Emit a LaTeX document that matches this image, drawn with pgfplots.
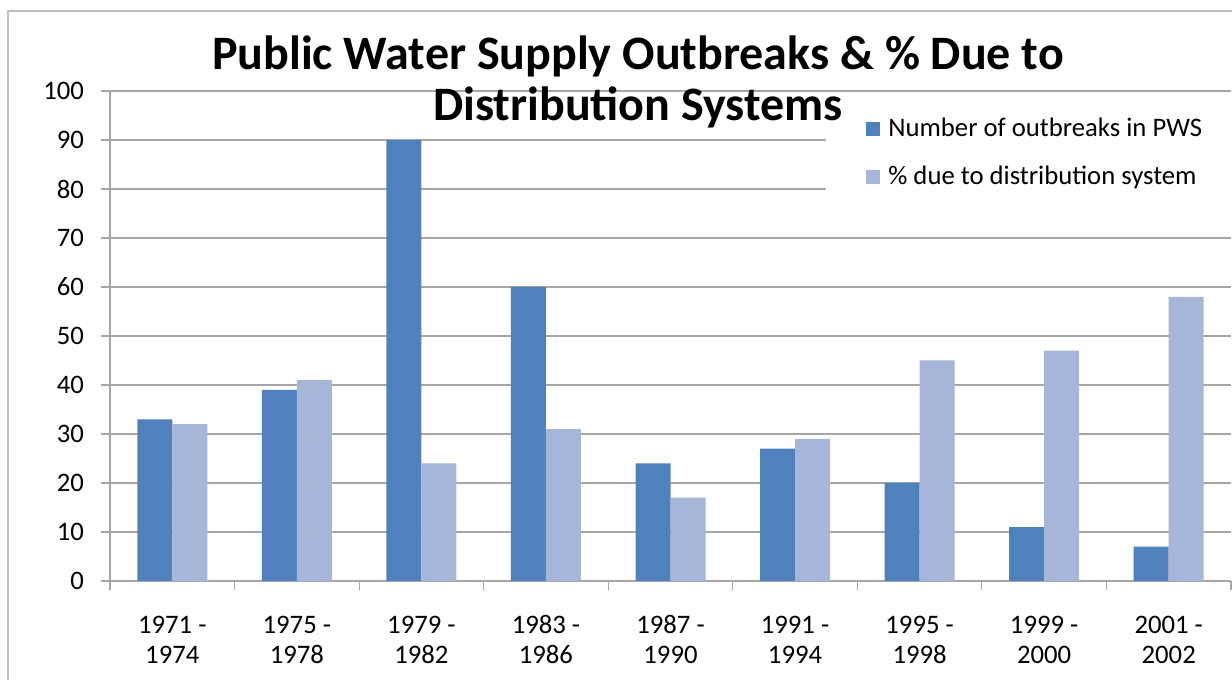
\documentclass[border=0pt]{standalone}
\usepackage{fontspec}
\setmainfont{Carlito}
\usepackage{pgfplots}
\pgfplotsset{compat=1.18}
\definecolor{darkblue}{HTML}{4F81BD}
\definecolor{lightblue}{HTML}{A5B6D9}
\definecolor{gridgray}{HTML}{A6A6A6}
\definecolor{framegray}{HTML}{BFBFBF}
\begin{document}
\begin{tikzpicture}
\path[use as bounding box] (0,0) rectangle (616bp,340bp);
\draw[framegray, line width=1bp] (4bp,-5bp) -- (4bp,334.5bp) -- (625bp,334.5bp);
\begin{axis}[
  at={(55bp,49.5bp)}, anchor=south west,
  scale only axis, width=560.5bp, height=245bp,
  xmin=-0.5, xmax=8.5, ymin=0, ymax=100,
  ybar=0pt, bar width=17.5bp,
  axis x line*=bottom, axis y line*=left,
  axis line style={gridgray, line width=0.6bp, -},
  xtick={-0.5,0.5,...,8.5},
  x tick label as interval,
  xticklabels={{\strut 1971 -\\\strut 1974},{\strut 1975 -\\\strut 1978},{\strut 1979 -\\\strut 1982},{\strut 1983 -\\\strut 1986},{\strut 1987 -\\\strut 1990},{\strut 1991 -\\\strut 1994},{\strut 1995 -\\\strut 1998},{\strut 1999 -\\\strut 2000},{\strut 2001 -\\\strut 2002}},
  xticklabel style={align=center, anchor=north, font=\fontsize{13.4}{15}\selectfont, yshift=-8bp},
  ytick={0,10,...,100},
  yticklabel style={font=\fontsize{13.4}{16}\selectfont, xshift=-5bp},
  /pgf/number format/assume math mode=true,
  tick align=outside,
  major tick length=4.5bp,
  tick style={gridgray, line width=0.6bp},
  ymajorgrids,
  grid style={gridgray, line width=0.6bp},
  legend style={at={(0.6387,0.9816)}, anchor=north west, fill=white, draw=none,
    inner xsep=20bp, inner ysep=7bp, row sep=9bp,
    font=\fontsize{13.4}{16}\selectfont},
  legend cell align=left,
  legend image code/.code={\fill[#1] (0bp,-3.5bp) rectangle (7bp,3.5bp); \path (9bp,0bp);},
]
\addplot[fill=darkblue, draw=none] coordinates {(0,33) (1,39) (2,90) (3,60) (4,24) (5,27) (6,20) (7,11) (8,7)};
\addplot[fill=lightblue, draw=none] coordinates {(0,32) (1,41) (2,24) (3,31) (4,17) (5,29) (6,45) (7,47) (8,58)};
\legend{Number of outbreaks in PWS, \% due to distribution system}
\end{axis}
\node[anchor=base, font=\fontsize{24.1}{29}\selectfont\bfseries] at (319bp,305bp) {Public Water Supply Outbreaks \& \% Due to};
\node[anchor=base, font=\fontsize{24.1}{29}\selectfont\bfseries] at (319bp,279.5bp) {Distribution Systems};
\end{tikzpicture}
\end{document}
